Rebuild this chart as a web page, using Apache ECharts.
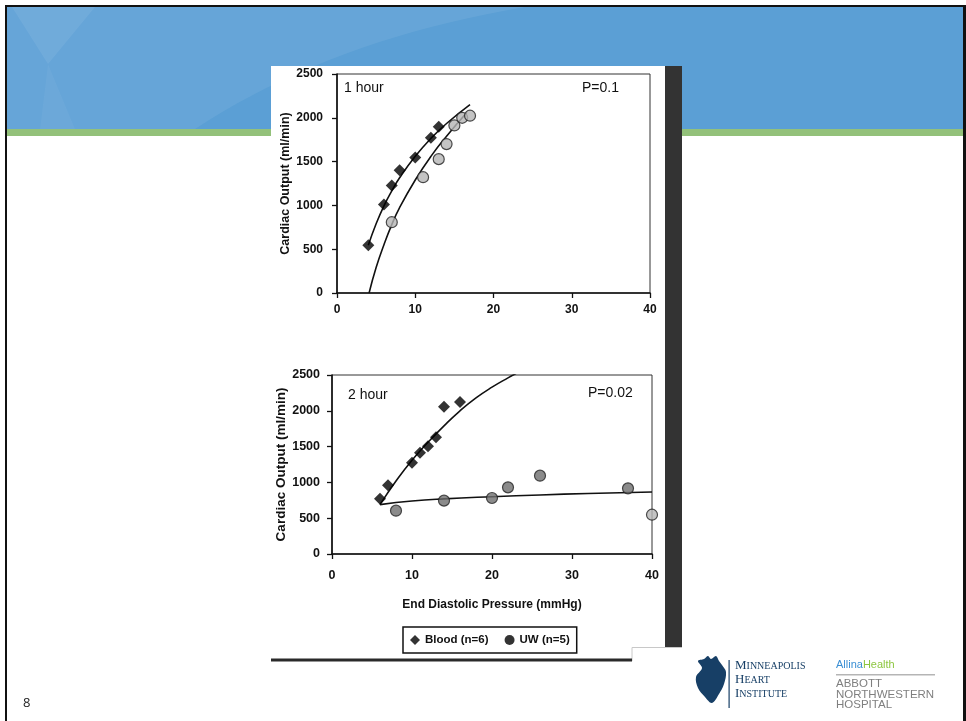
<!DOCTYPE html>
<html><head><meta charset="utf-8">
<script src="https://cdn.jsdelivr.net/npm/echarts@6/dist/echarts.min.js"></script>
<style>html,body{margin:0;padding:0;background:#fff}#c{width:966px;height:721px}</style>
</head><body><div id="c"></div>
<script>
// ---- data ----
const xTicks = [0, 10, 20, 30, 40];
const yTicks = [0, 500, 1000, 1500, 2000, 2500];
// 1 hour
const blood1 = [[4,545],[6,1010],[7,1227],[8,1402],[10,1547],[12,1772],[13,1898]];
const uw1 = [[7,808],[11,1322],[13,1528],[14,1700],[15,1913],[16,2000],[17,2024]];
const blood1Fit = [[4,545],[5,790],[6,995],[7,1165],[8,1315],[10,1560],[12,1765],[14,1935],[17,2150]];
const uw1Fit = [[4.1,0],[5,290],[6,550],[7,780],[8,975],[10,1290],[12,1560],[14,1790],[16.6,2060]];
// 2 hour
const blood2 = [[6,773],[7,959],[10,1276],[11,1415],[12,1504],[13,1629],[14,2058],[16,2123]];
const uw2 = [[8,605],[14,745],[20,782],[22,931],[26,1094],[37,917]];
const uw2Light = [[40,549]];
const blood2Fit = [[6,690],[8,1020],[10,1310],[12,1560],[14,1790],[16,2000],[18,2180],[20,2330],[22,2460],[23,2520]];
const uw2Fit = [[6,690],[10,740],[14,770],[20,800],[26,825],[32,845],[40,866]];
const panelTexts = [['1 hour','P=0.1'],['2 hour','P=0.02']];

const FONT = "'Liberation Sans', Arial, sans-serif";
const chart = echarts.init(document.getElementById('c'));

function xAxis(gi, fs, margin, name) {
  return {
    gridIndex: gi, type: 'value', min: 0, max: 40, interval: 10,
    axisLine: {show: true, lineStyle: {color: '#111', width: 1.6}},
    axisTick: {show: true, inside: false, length: 5, lineStyle: {color: '#111', width: 1.3}},
    axisLabel: {color: '#111', fontSize: fs, fontFamily: FONT, fontWeight: 'bold', margin: margin,
      formatter: v => String(v)},
    splitLine: {show: false},
    name: name || '', nameLocation: 'middle', nameGap: 45,
    nameTextStyle: {color: '#111', fontSize: 12, fontFamily: FONT, fontWeight: 'bold'}
  };
}
function yAxis(gi, fs, margin, gap, nfs) {
  return {
    gridIndex: gi, type: 'value', min: 0, max: 2500, interval: 500,
    axisLine: {show: true, lineStyle: {color: '#111', width: 1.6}},
    axisTick: {show: true, length: 5, lineStyle: {color: '#111', width: 1.3}},
    axisLabel: {color: '#111', fontSize: fs, fontFamily: FONT, fontWeight: 'bold', margin: margin,
      formatter: v => String(v)},
    splitLine: {show: false},
    name: 'Cardiac Output (ml/min)', nameLocation: 'middle', nameGap: gap, nameRotate: 90,
    nameTextStyle: {color: '#111', fontSize: nfs, fontFamily: FONT, fontWeight: 'bold'}
  };
}
function fitLine(data, xi) {
  return {type: 'line', xAxisIndex: xi, yAxisIndex: xi, data: data, smooth: true,
    showSymbol: false, symbol: 'none', clip: true, silent: true,
    lineStyle: {color: '#111', width: 1.6}, z: 2};
}
function scatter(name, data, xi, symbol, color, size) {
  return {type: 'scatter', name: name, xAxisIndex: xi, yAxisIndex: xi, data: data,
    symbol: symbol, symbolSize: size,
    itemStyle: {color: color, borderColor: '#222', borderWidth: symbol === 'circle' ? 1.2 : 0}, z: 3};
}

const gText = (x, y, t, size) => ({type: 'text', left: x, top: y, z: 10,
  style: {text: t, fontSize: size || 14, fontFamily: FONT, fill: '#111'}});

// decorative header swoosh boundary (quadratic curve)
const swoosh = [[7,7]];
for (let i = 0; i <= 20; i++) {
  const t = i / 20, a = [525,7], c = [330,40], b = [195,129];
  swoosh.push([(1-t)*(1-t)*a[0] + 2*(1-t)*t*c[0] + t*t*b[0], (1-t)*(1-t)*a[1] + 2*(1-t)*t*c[1] + t*t*b[1]]);
}
swoosh.push([7,129]);

chart.setOption({
  animation: false,
  backgroundColor: '#ffffff',
  grid: [
    {left: 337, top: 74, width: 313, height: 219, show: true, borderColor: '#333', borderWidth: 1, backgroundColor: 'transparent'},
    {left: 332, top: 375, width: 320, height: 179, show: true, borderColor: '#333', borderWidth: 1, backgroundColor: 'transparent'}
  ],
  xAxis: [xAxis(0, 12, 11, ''), xAxis(1, 12.5, 15, 'End Diastolic Pressure (mmHg)')],
  yAxis: [yAxis(0, 12, 14, 45, 12.5), yAxis(1, 12.5, 12, 39, 13.5)],
  legend: {
    left: 403, top: 627,
    itemWidth: 10, itemHeight: 10, itemGap: 16,
    padding: [7, 7, 7, 7],
    borderColor: '#111', borderWidth: 1.5,
    textStyle: {color: '#111', fontSize: 11.5, fontFamily: FONT, fontWeight: 'bold'},
    data: [
      {name: 'Blood (n=6)', icon: 'diamond', itemStyle: {color: '#000', borderWidth: 0}},
      {name: 'UW (n=5)', icon: 'circle', itemStyle: {color: '#000', borderWidth: 0}}
    ]
  },
  series: [
    fitLine(blood1Fit, 0), fitLine(uw1Fit, 0),
    fitLine(blood2Fit, 1), fitLine(uw2Fit, 1),
    scatter('Blood (n=6)', blood1, 0, 'diamond', '#000', 12),
    scatter('UW (n=5)', uw1, 0, 'circle', '#b5b5b5', 11),
    scatter('Blood (n=6)', blood2, 1, 'diamond', '#000', 12),
    scatter('UW (n=5)', uw2, 1, 'circle', '#6e6e6e', 11),
    scatter('UW (n=5) ', uw2Light, 1, 'circle', '#b5b5b5', 11)
  ],
  graphic: [
    // slide frame
    {type: 'rect', shape: {x: 0, y: 0, width: 966, height: 721}, style: {fill: '#fff'}, z: -30, silent: true},
    {type: 'rect', shape: {x: 7, y: 7, width: 956, height: 122}, style: {fill: '#5b9fd5'}, z: -29, silent: true},
    {type: 'polygon', shape: {points: swoosh}, style: {fill: 'rgba(255,255,255,0.07)'}, z: -28, silent: true},
    {type: 'polygon', shape: {points: [[12,7],[95,7],[48,64]]}, style: {fill: 'rgba(255,255,255,0.07)'}, z: -27, silent: true},
    {type: 'polygon', shape: {points: [[48,64],[75,129],[40,129]]}, style: {fill: 'rgba(255,255,255,0.04)'}, z: -27, silent: true},
    {type: 'rect', shape: {x: 7, y: 129, width: 956, height: 7}, style: {fill: '#93c17a'}, z: -26, silent: true},
    {type: 'rect', shape: {x: 5, y: 5, width: 958, height: 2}, style: {fill: '#111'}, z: -25, silent: true},
    {type: 'rect', shape: {x: 5, y: 5, width: 2, height: 716}, style: {fill: '#111'}, z: -25, silent: true},
    {type: 'rect', shape: {x: 963, y: 5, width: 3, height: 716}, style: {fill: '#111'}, z: -25, silent: true},
    // scanned picture panel
    {type: 'rect', shape: {x: 271, y: 66, width: 394, height: 593}, style: {fill: '#fff'}, z: -24, silent: true},
    {type: 'rect', shape: {x: 665, y: 66, width: 17, height: 581}, style: {fill: '#333333'}, z: -24, silent: true},
    {type: 'rect', shape: {x: 632, y: 647, width: 50, height: 14}, style: {fill: '#fff'}, z: -24, silent: true},
    {type: 'polyline', shape: {points: [[632,661],[632,647.5],[682,647.5]]}, style: {stroke: '#c8c8c8', lineWidth: 1, fill: null}, z: -23, silent: true},
    {type: 'rect', shape: {x: 271, y: 658.5, width: 361, height: 3}, style: {fill: '#2a2a2a'}, z: -23, silent: true},
    // panel annotations
    gText(344, 81, panelTexts[0][0]), gText(582, 81, panelTexts[0][1]),
    gText(348, 388, panelTexts[1][0]), gText(588, 386, panelTexts[1][1]),
    // slide number
    {type: 'text', left: 23, top: 697, style: {text: '8', fontSize: 13, fontFamily: "'Open Sans', sans-serif", fill: '#222'}},
    // Minneapolis Heart Institute logo (heart)
    {type: 'polygon', shape: {smooth: 0.35, points: [[702,668],[698,661],[704,659],[708,656],[711,659],[716,656],[719,661],[722,665],[726,672],[724,684],[719,694],[712,703],[705,697],[698,688],[696,677]]}, style: {fill: '#173f66'}, silent: true},
    {type: 'rect', shape: {x: 728.5, y: 660, width: 1.2, height: 48}, style: {fill: '#173f66'}, silent: true},
    {type: 'text', left: 735, top: 659, style: {text: '{b|M}{s|INNEAPOLIS}\n{b|H}{s|EART}\n{b|I}{s|NSTITUTE}', lineHeight: 14,
      rich: {b: {fontSize: 13, fontFamily: "'Liberation Serif', serif", fill: '#173f66', lineHeight: 14},
             s: {fontSize: 10, fontFamily: "'Liberation Serif', serif", fill: '#173f66', lineHeight: 14}}}},
    // Allina / Abbott logo
    {type: 'text', left: 836, top: 659, style: {text: '{a|Allina}{h|Health}', rich: {
      a: {fontSize: 11, fontFamily: FONT, fill: '#3a8fd4'}, h: {fontSize: 11, fontFamily: FONT, fill: '#8cc63f'}}}},
    {type: 'rect', shape: {x: 836, y: 674, width: 99, height: 1.5}, style: {fill: '#b5b5b5'}, silent: true},
    {type: 'text', left: 836, top: 678, style: {text: 'ABBOTT\nNORTHWESTERN\nHOSPITAL', lineHeight: 10.5, fontSize: 11.5, fontFamily: FONT, fill: '#7f7f7f'}}
  ]
});
</script></body></html>
